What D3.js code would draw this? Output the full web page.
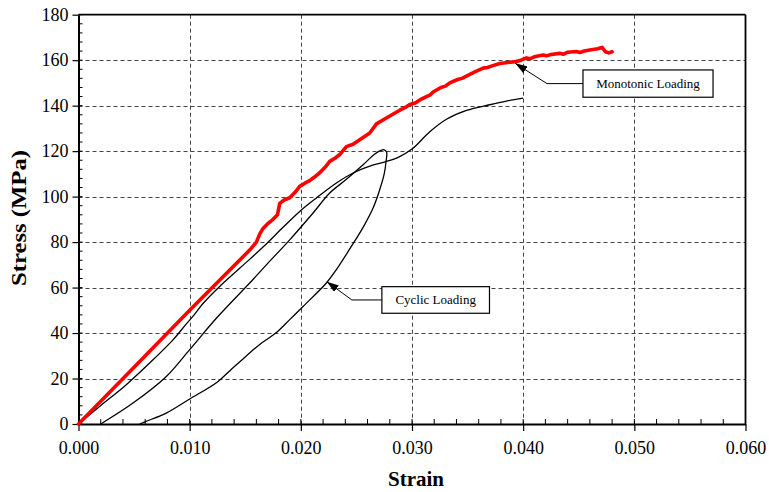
<!DOCTYPE html>
<html>
<head>
<meta charset="utf-8">
<script src="https://cdn.jsdelivr.net/npm/d3@7"></script>
<style>
  html, body { margin: 0; padding: 0; background: #fff; }
  svg { display: block; font-family: "Liberation Serif", "Times New Roman", serif; }
</style>
</head>
<body>
<svg id="chart" width="769" height="492"></svg>
<script>
// ---- Data (strain, stress MPa) ----
const monotonic = [
  [0,0],[0.0050,25],[0.0100,50],[0.0154,76.5],[0.0160,80],[0.0163,83.5],[0.0166,86],
  [0.0170,88],[0.0175,90],[0.0179,92],[0.0181,97],[0.0185,98.5],[0.0190,99.5],
  [0.0195,102],[0.0199,104.5],[0.0204,106],[0.0208,107],[0.0212,108.5],[0.0217,110.5],
  [0.0222,113],[0.0226,115.5],[0.0231,117],[0.0235,118.5],[0.0241,122],[0.0247,123],
  [0.0253,125],[0.0262,128],[0.0268,132],[0.0275,134],[0.0282,136],[0.0289,138],
  [0.0294,139.2],[0.0298,140.5],[0.0303,141.2],[0.0307,142.5],[0.0313,144],[0.0316,144.6],
  [0.0319,146],[0.0326,148],[0.0330,148.6],[0.0334,150],[0.0341,151.5],[0.0345,152],
  [0.0349,153],[0.0357,155],[0.0364,156.5],[0.0368,156.8],[0.0372,157.5],[0.0379,158.5],
  [0.0386,159],[0.0393,159.3],[0.0398,160],[0.0403,161],[0.0406,160.6],[0.0410,161.5],
  [0.0418,162.3],[0.0421,161.9],[0.0425,162.5],[0.0433,163],[0.0436,162.6],[0.0440,163.5],
  [0.0448,163.8],[0.0451,163.4],[0.0455,164],[0.0460,164.5],[0.0467,165],[0.0471,165.6],
  [0.0474,163.7],[0.0477,163.2],[0.0480,163.7]
];
const cyclicEnvelope = [
  [0,0],[0.0019,7.7],[0.0043,17.3],[0.0064,26.8],[0.0085,37],[0.0097,44],[0.0104,48],
  [0.0112,53],[0.0127,60.5],[0.0145,68.5],[0.0166,77.8],[0.0184,86.5],[0.0199,93.5],
  [0.0214,99.4],[0.0232,106],[0.0247,110.4],[0.0262,113.4],[0.0276,115.3],[0.0288,117.4],
  [0.0300,120.9],[0.0316,128.5],[0.0331,134],[0.0349,137.9],
  [0.0370,140.4],[0.0385,142],[0.0400,143.3]
];
const cyclicLoop = [
  [0.0020,0],[0.0049,9.2],[0.0079,20.9],[0.0100,32.7],[0.0124,46.5],[0.0154,62],
  [0.0169,70],[0.0190,81],[0.0211,92.8],[0.0226,101.6],[0.0241,107.6],[0.0256,114],
  [0.0266,118.5],[0.0272,120.3],[0.0275,120.6],[0.02772,119.5],[0.02768,116],
  [0.0275,110],[0.0270,101.6],[0.0265,95],[0.0256,86.5],[0.0244,77],[0.0232,67.9],
  [0.0223,62],[0.0202,51.7],[0.0190,45.9],[0.0178,40.2],[0.0163,35],[0.0150,29.5],
  [0.0138,24.3],[0.0125,18.5],[0.0100,11],[0.0079,4.8],[0.0061,1.2],[0.0055,0]
];
const xTicks = [0, 0.010, 0.020, 0.030, 0.040, 0.050, 0.060];
const yTicks = [0, 20, 40, 60, 80, 100, 120, 140, 160, 180];
const xLabel = "Strain";
const yLabel = "Stress (MPa)";
const annotations = [
  { text: "Monotonic Loading", tip: [0.03929, 158.6], elbow: [0.04214, 149.8], box: [0.04538, 0.05708, 155.7, 143.7] },
  { text: "Cyclic Loading", tip: [0.02234, 62.6], elbow: [0.02459, 54.5], box: [0.02729, 0.03697, 60.4, 48.7] }
];

// ---- Layout ----
const svg = d3.select("#chart");
const x = d3.scaleLinear().domain([0, 0.060]).range([78.5, 745.5]);
const y = d3.scaleLinear().domain([0, 180]).range([424, 14.7]);

// gridlines
const grid = svg.append("g").attr("stroke", "#444").attr("stroke-width", 1)
  .attr("stroke-dasharray", "4,3").attr("fill", "none");
xTicks.slice(1, -1).forEach(t => {
  grid.append("line").attr("x1", Math.round(x(t)) + 0.5).attr("x2", Math.round(x(t)) + 0.5)
    .attr("y1", y(180)).attr("y2", y(0));
});
yTicks.slice(1, -1).forEach(t => {
  grid.append("line").attr("y1", Math.round(y(t)) + 0.5).attr("y2", Math.round(y(t)) + 0.5)
    .attr("x1", x(0)).attr("x2", x(0.060));
});

// frame top/right
svg.append("line").attr("x1", x(0)).attr("x2", x(0.060)).attr("y1", y(180)).attr("y2", y(180))
  .attr("stroke", "#000").attr("stroke-width", 1.8);
svg.append("line").attr("x1", x(0.060)).attr("x2", x(0.060)).attr("y1", y(180)).attr("y2", y(0))
  .attr("stroke", "#000").attr("stroke-width", 1.8);

// minor ticks
const minorX = d3.range(0, 0.0601, 0.002);
svg.append("g").selectAll("line").data(minorX).join("line")
  .attr("x1", d => x(d)).attr("x2", d => x(d)).attr("y1", y(0)).attr("y2", y(0) - 5)
  .attr("stroke", "#000").attr("stroke-width", 1);
const minorY = d3.range(0, 180.1, 4);
svg.append("g").selectAll("line").data(minorY).join("line")
  .attr("y1", d => y(d)).attr("y2", d => y(d)).attr("x1", x(0)).attr("x2", x(0) + 4)
  .attr("stroke", "#000").attr("stroke-width", 1);

// axes
const xAxis = d3.axisBottom(x).tickValues(xTicks).tickFormat(d3.format(".3f")).tickSizeInner(7).tickSizeOuter(0).tickPadding(10);
const gx = svg.append("g").attr("transform", `translate(0,${y(0)})`).call(xAxis);
gx.select(".domain").attr("stroke-width", 2);
gx.selectAll(".tick line").attr("stroke-width", 1.2);
gx.selectAll("text").attr("font-size", 18).attr("font-family", "Liberation Serif").attr("fill", "#000");

const yAxis = d3.axisLeft(y).tickValues(yTicks).tickSizeInner(6).tickSizeOuter(0).tickPadding(4);
const gy = svg.append("g").attr("transform", `translate(${x(0)},0)`).call(yAxis);
gy.select(".domain").attr("stroke-width", 2);
gy.selectAll(".tick line").attr("stroke-width", 1.2);
gy.selectAll("text").attr("font-size", 18).attr("font-family", "Liberation Serif").attr("fill", "#000");

// axis titles
svg.append("text").attr("x", 416).attr("y", 486).attr("text-anchor", "middle")
  .attr("font-size", 21).attr("font-weight", "bold").text(xLabel);
svg.append("text").attr("transform", "translate(26,218) rotate(-90)").attr("text-anchor", "middle")
  .attr("font-size", 21).attr("font-weight", "bold")
  .attr("textLength", 136).attr("lengthAdjust", "spacingAndGlyphs").text(yLabel);

// curves
const smooth = d3.line().x(d => x(d[0])).y(d => y(d[1])).curve(d3.curveCatmullRom.alpha(0.5));
const jag = d3.line().x(d => x(d[0])).y(d => y(d[1]));
svg.append("path").datum(cyclicEnvelope).attr("d", smooth).attr("fill", "none")
  .attr("stroke", "#000").attr("stroke-width", 1.3);
svg.append("path").datum(cyclicLoop).attr("d", smooth).attr("fill", "none")
  .attr("stroke", "#000").attr("stroke-width", 1.3);
svg.append("path").datum(monotonic).attr("d", jag).attr("fill", "none")
  .attr("stroke", "#ff0000").attr("stroke-width", 3.6).attr("stroke-linejoin", "round").attr("stroke-linecap", "round");

// annotations
svg.append("defs").append("marker").attr("id", "arrow").attr("viewBox", "0 0 12 8")
  .attr("refX", 12).attr("refY", 4).attr("markerWidth", 12).attr("markerHeight", 8)
  .attr("markerUnits", "userSpaceOnUse").attr("orient", "auto")
  .append("path").attr("d", "M0,0 L12,4 L0,8 Z").attr("fill", "#000");
annotations.forEach(a => {
  const bx0 = x(a.box[0]), bx1 = x(a.box[1]), by0 = y(a.box[2]), by1 = y(a.box[3]);
  const midY = (by0 + by1) / 2;
  svg.append("path")
    .attr("d", `M${bx0},${midY} L${x(a.elbow[0])},${midY} L${x(a.tip[0])},${y(a.tip[1])}`)
    .attr("fill", "none").attr("stroke", "#000").attr("stroke-width", 1).attr("marker-end", "url(#arrow)");
  svg.append("rect").attr("x", bx0).attr("y", by0).attr("width", bx1 - bx0).attr("height", by1 - by0)
    .attr("fill", "#fff").attr("stroke", "#000").attr("stroke-width", 1.2);
  svg.append("text").attr("x", (bx0 + bx1) / 2).attr("y", midY + 4.5).attr("text-anchor", "middle")
    .attr("font-size", 13).text(a.text);
});
</script>
</body>
</html>
